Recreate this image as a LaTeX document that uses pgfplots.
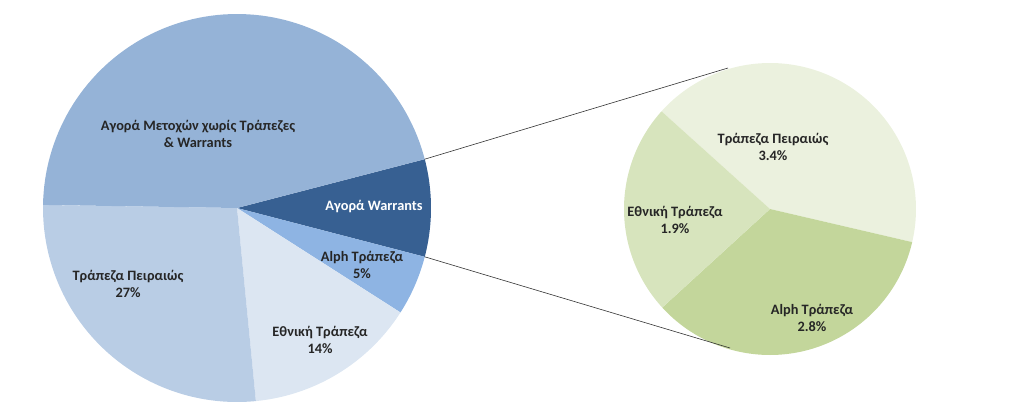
\documentclass[border=0pt]{standalone}
\usepackage{pgfplots}
\pgfplotsset{compat=1.18}
\usepackage{fontspec}
\setmainfont{Carlito}

\definecolor{cMain}{HTML}{95B3D7}
\definecolor{cWar}{HTML}{376092}
\definecolor{cAlph}{HTML}{8EB4E3}
\definecolor{cEth}{HTML}{DCE6F2}
\definecolor{cPei}{HTML}{B9CDE5}
\definecolor{gPei}{HTML}{EBF1DE}
\definecolor{gEth}{HTML}{D7E4BD}
\definecolor{gAlph}{HTML}{C3D69B}

% shares in percent
\def\vWar{8.1}\def\vAlph{5.0}\def\vEth{14.4}\def\vPei{26.8}\def\vMain{45.7}
% second pie: breakdown of the 8.1 slice
\def\sPei{3.4}\def\sAlph{2.8}\def\sEth{1.9}

% one wedge: centre x, centre y, radius, from angle, to angle, colour
\newcommand{\slice}[6]{%
  \addplot[fill=#6, draw=none, domain=#4:#5, samples=90, variable=\t]
    ({#1+#3*cos(\t)}, {#2+#3*sin(\t)}) -- (#1,#2) -- cycle;
}
\newcommand{\lbl}{\fontsize{14.4}{16.8}\selectfont\bfseries}

\begin{document}
\begin{tikzpicture}
\begin{axis}[width=1024bp, height=410bp, scale only axis,
  xmin=0, xmax=1024, ymin=0, ymax=410, hide axis, clip=false]

% left pie, clockwise from the warrants slice centred on the right
\pgfmathsetmacro{\aA}{\vWar*1.8}
\pgfmathsetmacro{\aB}{-\vWar*1.8}
\pgfmathsetmacro{\aC}{\aB-\vAlph*3.6}
\pgfmathsetmacro{\aD}{\aC-\vEth*3.6}
\pgfmathsetmacro{\aE}{\aD-\vPei*3.6}
\pgfmathsetmacro{\aF}{\aE-\vMain*3.6}
\slice{237}{202}{194}{\aB}{\aA}{cWar}
\slice{237}{202}{194}{\aC}{\aB}{cAlph}
\slice{237}{202}{194}{\aD}{\aC}{cEth}
\slice{237}{202}{194}{\aE}{\aD}{cPei}
\slice{237}{202}{194}{\aF}{\aE}{cMain}

% right pie
\pgfmathsetmacro{\bA}{138}
\pgfmathsetmacro{\bB}{\bA-\sPei/8.1*360}
\pgfmathsetmacro{\bC}{\bB-\sAlph/8.1*360}
\pgfmathsetmacro{\bD}{\bC-\sEth/8.1*360}
\slice{770}{201}{146}{\bB}{\bA}{gPei}
\slice{770}{201}{146}{\bC}{\bB}{gAlph}
\slice{770}{201}{146}{\bD}{\bC}{gEth}

% connector lines
\addplot[black!80, line width=0.6bp] coordinates {(424.7,250.8) (728,342)};
\addplot[black!80, line width=0.6bp] coordinates {(424.7,153.2) (730,62)};

% labels
\node[align=center, font=\lbl, text=black!85] at (axis cs:198,276) {Αγορά Μετοχών χωρίς Τράπεζες\\\& Warrants};
\node[font=\lbl, text=white] at (axis cs:374,203) {Αγορά Warrants};
\node[align=center, font=\lbl, text=black!85] at (axis cs:362,145) {Alph Τράπεζα\\5\%};
\node[align=center, font=\lbl, text=black!85] at (axis cs:128,126) {Τράπεζα Πειραιώς\\27\%};
\node[align=center, font=\lbl, text=black!85] at (axis cs:320,70) {Εθνική Τράπεζα\\14\%};
\node[align=center, font=\lbl, text=black!85] at (axis cs:773,263) {Τράπεζα Πειραιώς\\3.4\%};
\node[align=center, font=\lbl, text=black!85] at (axis cs:675,190) {Εθνική Τράπεζα\\1.9\%};
\node[align=center, font=\lbl, text=black!85] at (axis cs:812,92) {Alph Τράπεζα\\2.8\%};
\end{axis}
\pgfresetboundingbox
\path[use as bounding box] (current axis.south west) rectangle (current axis.north east);
\end{tikzpicture}
\end{document}
